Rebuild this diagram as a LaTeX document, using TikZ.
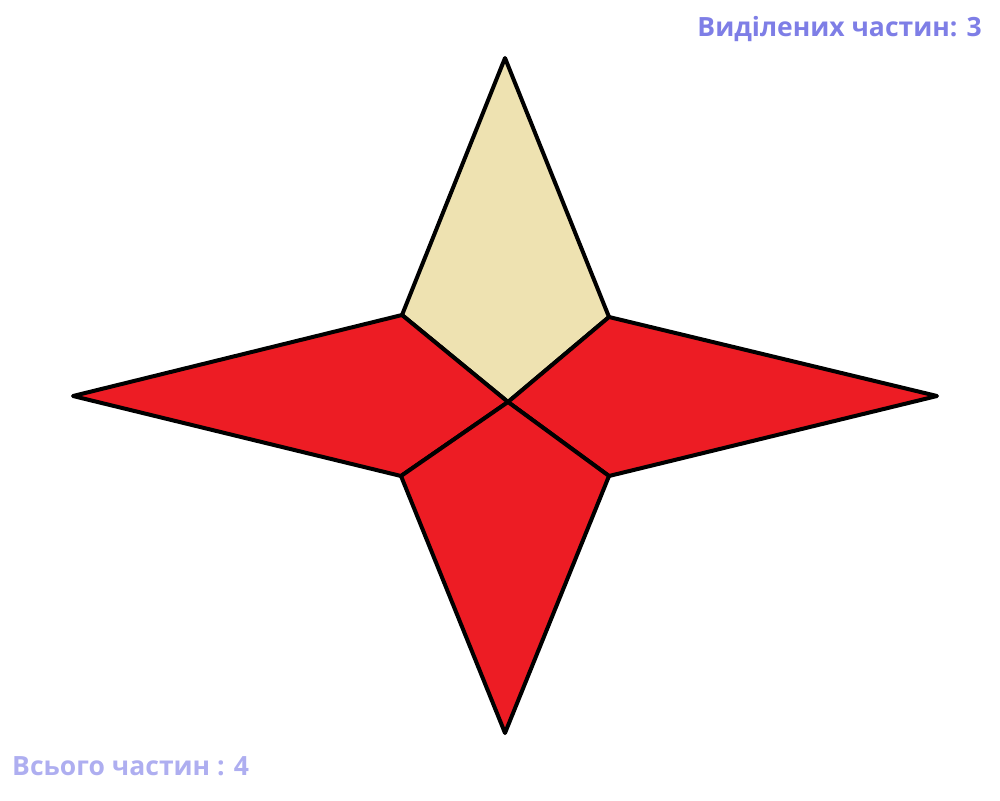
\documentclass[tikz,border=0pt]{standalone}
\usepackage{fontspec}
\setmainfont{Open Sans}
\usepackage{tikz}
\definecolor{shaded}{HTML}{ED1C24}
\definecolor{plain}{HTML}{EEE2B1}
\definecolor{counttop}{HTML}{7E7EE6}
\definecolor{countbottom}{HTML}{AEAEF0}

\begin{document}
\begin{tikzpicture}[x=1pt, y=-1pt,
  part/.style={draw=black, line width=4pt, line join=round},
  label/.style={inner sep=0pt, font=\fontsize{26.5}{32}\selectfont\bfseries},
]
  \useasboundingbox (0,0) rectangle (1000,800);
  % vertices of the star
  \coordinate (c)  at (508,402);
  \coordinate (ul) at (402,315);
  \coordinate (ur) at (609,317);
  \coordinate (ll) at (401,476);
  \coordinate (lr) at (609,476);
  \coordinate (nt) at (505,58);
  \coordinate (st) at (505,733);
  \coordinate (wt) at (73,396);
  \coordinate (et) at (937,396);
  
  \filldraw[part, fill=plain]   (c) -- (ul) -- (nt) -- (ur) -- cycle;
  \filldraw[part, fill=shaded]  (c) -- (ul) -- (wt) -- (ll) -- cycle;
  \filldraw[part, fill=shaded]  (c) -- (ur) -- (et) -- (lr) -- cycle;
  \filldraw[part, fill=shaded]  (c) -- (ll) -- (st) -- (lr) -- cycle;
  
  \node[label, text=counttop, anchor=base east] (chosen) at (982,37) {Виділених частин: 3};
  \node[label, text=countbottom, anchor=base west] (total) at (12,775) {Всього частин : 4};
\end{tikzpicture}
\end{document}
